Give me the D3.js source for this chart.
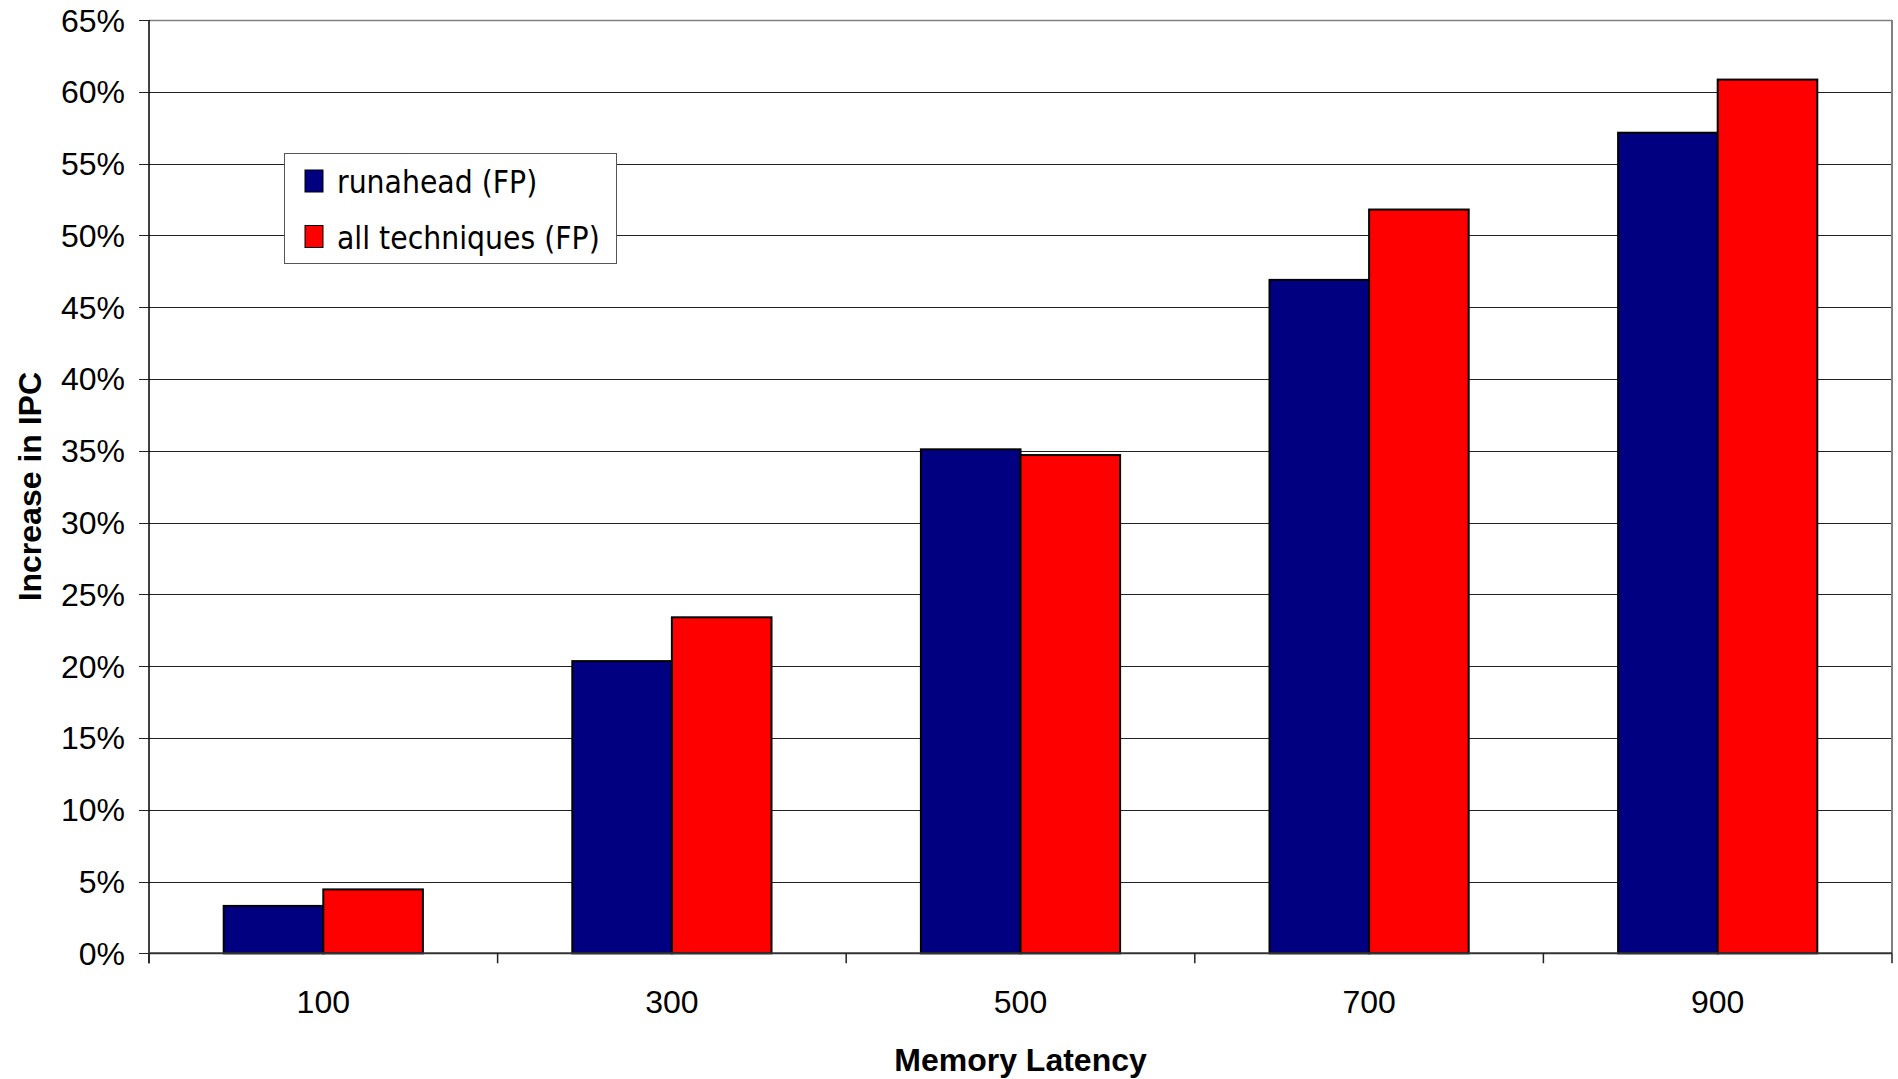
<!DOCTYPE html>
<html>
<head>
<meta charset="utf-8">
<script src="https://cdn.jsdelivr.net/npm/d3@7"></script>
<style>
  html, body { margin: 0; padding: 0; background: #fff; }
  svg { display: block; }
</style>
</head>
<body>
<svg id="chart" width="1898" height="1079"></svg>
<script>
// Memory latency settings on the x axis
const latencies = ["100", "300", "500", "700", "900"];
// Series names, as shown in the legend
const seriesNames = ["runahead (FP)", "all techniques (FP)"];
const seriesColors = ["#000080", "#ff0000"];
// IPC increase (%) per latency
const runaheadFP = [3.3, 20.35, 35.1, 46.9, 57.15];
const allTechniquesFP = [4.45, 23.4, 34.7, 51.8, 60.85];
// Y axis ticks (%)
const yTicks = [0, 5, 10, 15, 20, 25, 30, 35, 40, 45, 50, 55, 60, 65];

const seriesValues = [runaheadFP, allTechniquesFP];
const rows = latencies.map((lat, i) => ({
  lat,
  vals: seriesNames.map((name, s) => ({ name, s, v: seriesValues[s][i] }))
}));

const svg = d3.select("#chart");
const plotLeft = 149, plotRight = 1892, plotTop = 20, plotBottom = 953.3;

const x0 = d3.scaleBand().domain(latencies).range([plotLeft, plotRight]).padding(0);
const x1 = d3.scaleBand().domain(seriesNames).range([0, x0.bandwidth()])
  .paddingInner(0).paddingOuter(0.75);
const y = d3.scaleLinear().domain([0, 65]).range([plotBottom, plotTop]);

const axisFont = "'Liberation Sans', Arial, sans-serif";

// horizontal gridlines
svg.append("g").selectAll("line").data(yTicks.filter(t => t > 0)).join("line")
  .attr("x1", plotLeft).attr("x2", plotRight)
  .attr("y1", d => Math.round(y(d)) + 0.5).attr("y2", d => Math.round(y(d)) + 0.5)
  .attr("stroke", d => d === 65 ? "#808080" : "#222")
  .attr("stroke-width", d => d === 65 ? 1.5 : 1);

// plot area right border
svg.append("line")
  .attr("x1", plotRight).attr("x2", plotRight).attr("y1", plotTop).attr("y2", plotBottom)
  .attr("stroke", "#808080").attr("stroke-width", 2);

// bars
svg.append("g").selectAll("g").data(rows).join("g")
  .attr("transform", d => `translate(${x0(d.lat)},0)`)
  .selectAll("rect").data(d => d.vals).join("rect")
  .attr("x", d => x1(d.name))
  .attr("width", x1.bandwidth())
  .attr("y", d => y(d.v))
  .attr("height", d => y(0) - y(d.v))
  .attr("fill", d => seriesColors[d.s])
  .attr("stroke", "#000")
  .attr("stroke-width", 2);

// y axis line and ticks
svg.append("line")
  .attr("x1", plotLeft).attr("x2", plotLeft).attr("y1", plotTop).attr("y2", plotBottom + 10)
  .attr("stroke", "#000").attr("stroke-width", 1.5);
svg.append("g").selectAll("line").data(yTicks).join("line")
  .attr("x1", plotLeft - 10).attr("x2", plotLeft)
  .attr("y1", d => Math.round(y(d)) + 0.5).attr("y2", d => Math.round(y(d)) + 0.5)
  .attr("stroke", "#222").attr("stroke-width", 1);
svg.append("g").selectAll("text").data(yTicks).join("text")
  .attr("x", 125).attr("y", d => y(d)).attr("dy", "0.36em")
  .attr("text-anchor", "end")
  .attr("font-family", axisFont).attr("font-size", 32).attr("fill", "#000")
  .text(d => d + "%");

// x axis line and category boundary ticks
svg.append("line")
  .attr("x1", plotLeft).attr("x2", plotRight).attr("y1", plotBottom).attr("y2", plotBottom)
  .attr("stroke", "#333").attr("stroke-width", 2);
const bounds = latencies.map(l => x0(l)).concat([plotRight]);
svg.append("g").selectAll("line").data(bounds).join("line")
  .attr("x1", d => d).attr("x2", d => d)
  .attr("y1", plotBottom).attr("y2", plotBottom + 10)
  .attr("stroke", "#222").attr("stroke-width", 1.5);
svg.append("g").selectAll("text").data(latencies).join("text")
  .attr("x", d => x0(d) + x0.bandwidth() / 2).attr("y", 1013)
  .attr("text-anchor", "middle")
  .attr("font-family", axisFont).attr("font-size", 32).attr("fill", "#000")
  .text(d => d);

// axis titles
svg.append("text")
  .attr("x", (plotLeft + plotRight) / 2).attr("y", 1071)
  .attr("text-anchor", "middle")
  .attr("font-family", axisFont).attr("font-size", 32).attr("font-weight", "bold")
  .text("Memory Latency");
svg.append("text")
  .attr("transform", `translate(29,${(plotTop + plotBottom) / 2}) rotate(-90)`)
  .attr("dy", "0.36em")
  .attr("text-anchor", "middle")
  .attr("font-family", axisFont).attr("font-size", 32).attr("font-weight", "bold")
  .text("Increase in IPC");

// legend
const legend = svg.append("g").attr("transform", "translate(284,153)");
legend.append("rect")
  .attr("x", 0.5).attr("y", 0.5).attr("width", 332).attr("height", 110)
  .attr("fill", "#fff").attr("stroke", "#555").attr("stroke-width", 1);
const items = legend.selectAll("g").data(seriesNames).join("g")
  .attr("transform", (d, i) => `translate(21,${17 + i * 55.5})`);
items.append("rect")
  .attr("width", 18).attr("height", 22)
  .attr("fill", (d, i) => seriesColors[i])
  .attr("stroke", "#000").attr("stroke-width", 1);
items.append("text")
  .attr("x", 32).attr("y", 23)
  .attr("font-family", "'DejaVu Sans Condensed', 'DejaVu Sans', sans-serif").attr("font-size", 31.5)
  .attr("fill", "#000")
  .text(d => d);
</script>
</body>
</html>
